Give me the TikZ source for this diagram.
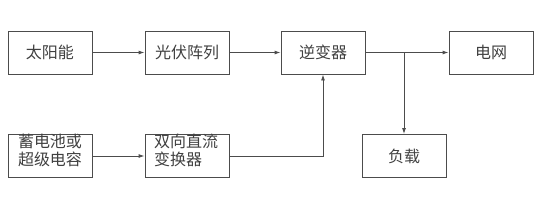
\documentclass[tikz,border=0pt]{standalone}
\usepackage{fontspec}
\setmainfont{Noto Sans CJK SC}
\usetikzlibrary{arrows.meta}
\begin{document}
\begin{tikzpicture}[x=1pt,y=-1pt,
  txt/.style={font=\fontsize{16}{18}\selectfont,text=black!75},
  blk/.style={txt,draw=black!70,line width=0.9pt,minimum width=84pt,minimum height=43pt,inner sep=0pt},
  conn/.style={draw=black!70,line width=0.9pt},
  arr/.style={conn,-{Latex[length=6pt,width=4pt]}}]
\useasboundingbox (0,0) rectangle (547,218);
\node[blk] (sun) at (50,52.5) {太阳能};
\node[blk] (pv) at (187,52.5) {光伏阵列};
\node[blk] (inv) at (323,52.5) {逆变器};
\node[blk] (grid) at (491,52.5) {电网};
\node[blk] (bat) at (50,156) {};
\node[txt,align=left,inner sep=0pt] (battxt) at (50,150) {蓄电池或\\超级电容};
\node[blk] (dc) at (187,156) {};
\node[txt,align=left,inner sep=0pt,anchor=west] (dctxt) at (154,150) {双向直流\\变换器};
\node[blk] (load) at (404,156) {负载};
\coordinate (j) at (404,52.5);
\draw[arr] (sun) -- (pv);
\draw[arr] (pv) -- (inv);
\draw[arr] (inv) -- (grid);
\draw[arr] (j) -- (load);
\draw[arr] (bat) -- (dc);
\draw[arr] (dc.east) -| (inv.south);
\end{tikzpicture}
\end{document}
